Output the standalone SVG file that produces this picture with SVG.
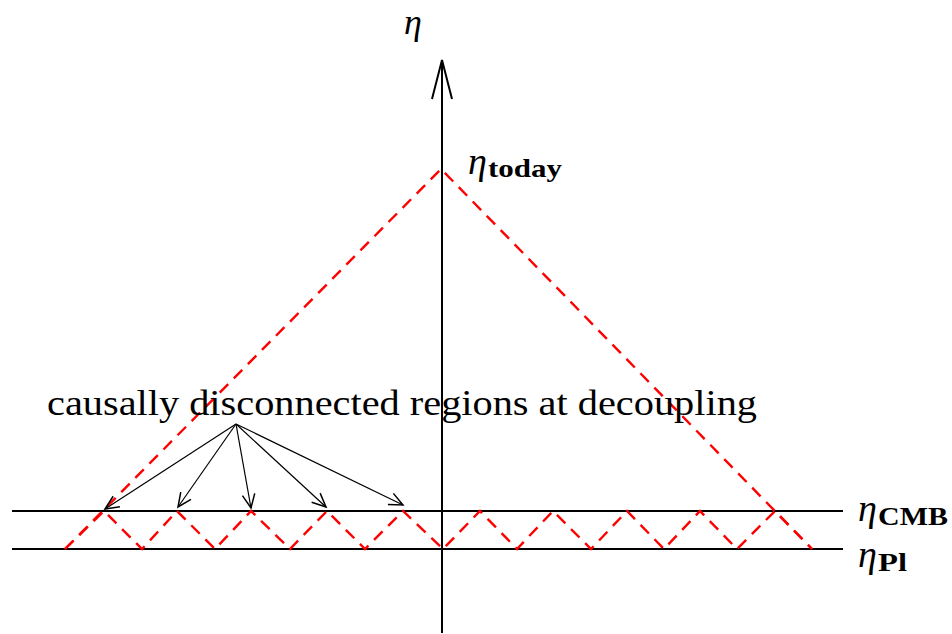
<svg xmlns="http://www.w3.org/2000/svg" width="952" height="634" viewBox="0 0 952 634">
<defs>
<style>
.axis{stroke:#000;stroke-width:2;fill:none}
.red{stroke:#ff0000;stroke-width:2.4;fill:none;stroke-dasharray:12 8}
.arr{stroke:#000;stroke-width:1.2;fill:none}
.serif{font-family:"Liberation Serif","DejaVu Serif",serif;fill:#000}
.eta{font-style:italic;font-size:38px}
.sub{font-weight:bold;font-size:26px}
</style>
<marker id="open" markerUnits="userSpaceOnUse" markerWidth="20" markerHeight="20" refX="0" refY="0" viewBox="-12 -8 14 16" orient="auto">
<path d="M -11 -5 L 0 0 L -11 5" stroke="#000" stroke-width="1.2" fill="none"/>
</marker>
</defs>
<rect width="952" height="634" fill="#fff"/>
<g id="axes">
<line class="axis" x1="442" y1="633" x2="442" y2="60"/>
<path class="axis" d="M432 99 L442 60 L452 99"/>
<line class="axis" x1="12" y1="511" x2="843" y2="511"/>
<line class="axis" x1="12" y1="549" x2="843" y2="549"/>
</g>
<g id="lightcone">
<path class="red" d="M65 549 L441 169 L812 549"/>
</g>
<g id="zigzag">
<path class="red" d="M65 549 L104 511 L142 549 L177 511 L215 549 L251 511 L290 549 L327 511 L365 549 L403 511 L443 549 L480 511 L517 549 L553 511 L591 549 L627 511 L664 549 L700 511 L737 549 L775 511 L812 549"/>
</g>
<g id="connectors">
<line class="arr" x1="236" y1="424" x2="105" y2="509" marker-end="url(#open)"/>
<line class="arr" x1="236" y1="424" x2="178" y2="507" marker-end="url(#open)"/>
<line class="arr" x1="236" y1="424" x2="251" y2="508" marker-end="url(#open)"/>
<line class="arr" x1="236" y1="424" x2="326" y2="507" marker-end="url(#open)"/>
<line class="arr" x1="236" y1="424" x2="403" y2="505" marker-end="url(#open)"/>
</g>
<g id="label-causal">
<text class="serif" x="47" y="415" font-size="35" textLength="710" lengthAdjust="spacingAndGlyphs">causally disconnected regions at decoupling</text>
</g>
<g id="label-eta">
<text class="serif" x="404" y="34" font-style="italic" font-size="36">η</text>
</g>
<g id="label-today">
<text class="serif eta" x="468" y="174">η</text>
<text class="serif sub" x="488" y="177" textLength="74" lengthAdjust="spacingAndGlyphs">today</text>
</g>
<g id="label-cmb">
<text class="serif eta" x="858" y="521">η</text>
<text class="serif sub" x="878" y="525" textLength="70" lengthAdjust="spacingAndGlyphs">CMB</text>
</g>
<g id="label-pl">
<text class="serif eta" x="858" y="567">η</text>
<text class="serif sub" x="878" y="571" textLength="29" lengthAdjust="spacingAndGlyphs">Pl</text>
</g>
</svg>
